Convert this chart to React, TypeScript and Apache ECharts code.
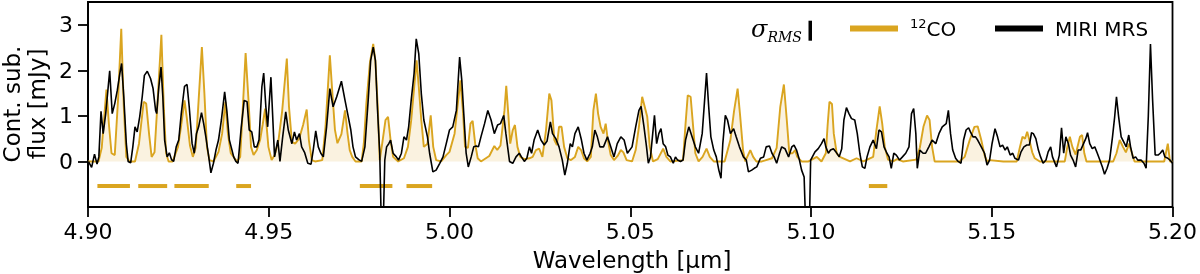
import React, { useEffect, useRef } from "react";
import * as echarts from "echarts";

const xTicks = [4.9, 4.95, 5.0, 5.05, 5.1, 5.15, 5.2];
const yTicks = [0, 1, 2, 3];

const miriSpectrum: [number, number][] = [
  [4.9001,0.0],[4.9010,-0.13],[4.9018,0.16],[4.9025,-0.06],[4.9030,0.1],[4.9036,1.1],[4.9042,0.61],[4.9049,1.05],[4.9055,1.56],[4.9060,1.99],
  [4.9067,1.05],[4.9074,1.27],[4.9081,1.56],[4.9088,1.93],[4.9093,2.15],[4.9099,1.42],[4.9106,0.39],[4.9111,0.0],[4.9118,-0.03],[4.9124,0.32],
  [4.9130,0.76],[4.9136,0.65],[4.9143,0.98],[4.9150,1.42],[4.9156,1.89],[4.9164,1.98],[4.9173,1.82],[4.9180,1.6],[4.9187,1.12],[4.9190,1.05],
  [4.9196,1.64],[4.9202,2.07],[4.9207,1.42],[4.9212,0.47],[4.9219,0.1],[4.9225,0.19],[4.9231,0.04],[4.9237,0.0],[4.9244,0.32],[4.9251,0.47],
  [4.9258,1.05],[4.9267,1.65],[4.9274,1.69],[4.9280,1.2],[4.9288,0.39],[4.9294,0.18],[4.9300,0.61],[4.9306,0.76],[4.9314,1.07],[4.9320,0.83],
  [4.9326,0.54],[4.9334,0.1],[4.9340,-0.25],[4.9347,-0.04],[4.9354,0.25],[4.9361,0.47],[4.9369,0.91],[4.9378,1.53],[4.9384,1.12],[4.9391,0.47],
  [4.9396,0.32],[4.9403,0.1],[4.9409,0.0],[4.9415,-0.04],[4.9424,0.76],[4.9432,1.34],[4.9440,1.31],[4.9446,0.69],[4.9453,0.65],[4.9460,0.32],
  [4.9467,0.32],[4.9473,0.47],[4.9481,1.64],[4.9486,1.94],[4.9492,1.2],[4.9497,0.76],[4.9506,1.85],[4.9516,0.1],[4.9525,0.47],[4.9531,0.0],
  [4.9538,0.5],[4.9547,1.09],[4.9554,0.69],[4.9564,0.39],[4.9571,0.65],[4.9577,0.47],[4.9585,0.61],[4.9591,0.32],[4.9599,0.2],[4.9608,-0.04],
  [4.9617,-0.06],[4.9623,0.25],[4.9630,0.67],[4.9637,0.32],[4.9644,0.18],[4.9651,0.1],[4.9660,0.76],[4.9669,1.6],[4.9678,1.2],[4.9688,1.42],
  [4.9701,1.76],[4.9711,1.34],[4.9720,0.98],[4.9727,0.69],[4.9733,0.32],[4.9740,0.1],[4.9749,0.04],[4.9757,0.0],[4.9766,0.32],[4.9775,1.34],
  [4.9782,2.22],[4.9789,2.51],[4.9795,2.22],[4.9801,1.12],[4.9807,0.18],[4.9812,-1.6],[4.9816,-1.6],[4.9821,0.03],[4.9826,0.32],[4.9832,0.39],
  [4.9837,0.47],[4.9844,0.18],[4.9853,0.1],[4.9859,0.03],[4.9867,0.18],[4.9874,0.54],[4.9881,0.47],[4.9887,0.76],[4.9894,1.34],[4.9902,1.93],
  [4.9908,2.69],[4.9915,2.36],[4.9922,1.49],[4.9929,0.91],[4.9939,0.54],[4.9945,0.18],[4.9954,-0.23],[4.9963,-0.19],[4.9973,-0.04],[4.9982,0.1],
  [4.9991,0.39],[5.0000,0.69],[5.0009,0.76],[5.0019,1.12],[5.0028,2.29],[5.0034,1.78],[5.0040,0.98],[5.0046,0.18],[5.0052,-0.12],[5.0060,0.1],
  [5.0067,0.32],[5.0074,0.34],[5.0080,0.32],[5.0087,0.54],[5.0097,0.83],[5.0106,1.12],[5.0115,0.91],[5.0124,0.61],[5.0133,0.8],[5.0141,0.83],
  [5.0150,1.01],[5.0156,0.61],[5.0166,0.0],[5.0175,-0.04],[5.0184,0.1],[5.0193,0.18],[5.0199,0.1],[5.0207,0.0],[5.0214,0.07],[5.0221,0.32],
  [5.0227,0.18],[5.0234,0.47],[5.0244,0.69],[5.0253,0.47],[5.0262,0.36],[5.0270,0.45],[5.0279,0.87],[5.0285,0.61],[5.0294,0.5],[5.0303,0.32],
  [5.0312,0.03],[5.0319,-0.3],[5.0326,-0.04],[5.0334,0.39],[5.0340,0.32],[5.0347,0.61],[5.0356,0.76],[5.0365,0.47],[5.0372,0.18],[5.0380,0.03],
  [5.0389,0.18],[5.0395,0.32],[5.0402,0.69],[5.0409,0.54],[5.0416,0.32],[5.0426,0.32],[5.0437,0.54],[5.0446,0.32],[5.0455,0.1],[5.0464,0.39],
  [5.0474,0.54],[5.0483,0.47],[5.0492,0.18],[5.0505,0.32],[5.0515,0.76],[5.0524,1.12],[5.0530,1.21],[5.0538,0.76],[5.0545,0.32],[5.0550,-0.04],
  [5.0556,0.1],[5.0567,1.01],[5.0573,0.39],[5.0579,0.61],[5.0585,0.72],[5.0591,0.39],[5.0598,0.32],[5.0604,0.14],[5.0611,0.1],[5.0619,-0.04],
  [5.0625,0.1],[5.0631,0.03],[5.0639,0.0],[5.0646,0.03],[5.0653,0.47],[5.0662,0.76],[5.0671,0.54],[5.0680,0.32],[5.0689,0.18],[5.0699,0.61],
  [5.0705,1.27],[5.0711,1.94],[5.0717,1.2],[5.0723,0.54],[5.0731,0.25],[5.0738,0.1],[5.0745,-0.19],[5.0751,-0.37],[5.0756,0.39],[5.0763,1.01],
  [5.0769,0.91],[5.0777,0.61],[5.0786,0.72],[5.0793,0.54],[5.0802,0.32],[5.0813,0.1],[5.0821,0.03],[5.0827,-0.23],[5.0836,-0.19],[5.0843,-0.15],
  [5.0850,-0.12],[5.0860,0.07],[5.0869,0.1],[5.0876,0.32],[5.0885,0.34],[5.0892,0.18],[5.0898,0.1],[5.0905,-0.04],[5.0913,0.18],[5.0919,0.32],
  [5.0928,0.28],[5.0938,0.1],[5.0947,0.32],[5.0953,0.36],[5.0960,0.25],[5.0968,0.03],[5.0974,-0.19],[5.0981,-0.34],[5.0986,-1.6],[5.0995,-1.6],
  [5.0999,0.03],[5.1011,0.21],[5.1020,0.28],[5.1029,0.39],[5.1036,0.5],[5.1041,0.32],[5.1048,0.18],[5.1054,0.25],[5.1062,0.28],[5.1069,0.21],
  [5.1078,0.1],[5.1085,0.28],[5.1091,0.91],[5.1098,1.18],[5.1105,1.05],[5.1112,0.94],[5.1121,0.91],[5.1128,0.61],[5.1135,0.18],[5.1142,-0.12],
  [5.1149,-0.15],[5.1155,0.1],[5.1163,0.32],[5.1172,0.47],[5.1181,0.28],[5.1188,0.69],[5.1195,0.65],[5.1202,0.32],[5.1210,0.18],[5.1216,0.1],
  [5.1222,-0.15],[5.1229,0.18],[5.1236,0.14],[5.1245,0.03],[5.1253,0.1],[5.1262,0.18],[5.1271,0.32],[5.1278,1.05],[5.1284,1.16],[5.1290,0.61],
  [5.1294,-0.15],[5.1301,0.25],[5.1310,0.18],[5.1317,0.18],[5.1326,0.32],[5.1335,0.47],[5.1345,0.39],[5.1354,0.61],[5.1363,0.76],[5.1374,0.83],
  [5.1380,1.12],[5.1386,0.61],[5.1392,0.25],[5.1400,0.07],[5.1407,0.0],[5.1415,-0.04],[5.1422,0.47],[5.1429,0.69],[5.1436,0.74],[5.1441,0.65],
  [5.1448,0.54],[5.1455,0.54],[5.1461,0.47],[5.1471,0.32],[5.1480,0.18],[5.1487,-0.08],[5.1494,0.03],[5.1501,0.4],[5.1509,0.72],[5.1516,0.54],
  [5.1523,0.32],[5.1530,0.36],[5.1537,0.25],[5.1543,0.32],[5.1551,0.14],[5.1558,0.18],[5.1564,0.07],[5.1574,0.03],[5.1581,0.21],[5.1589,0.32],
  [5.1597,0.36],[5.1604,0.36],[5.1610,0.63],[5.1615,0.61],[5.1622,0.5],[5.1629,0.25],[5.1635,0.1],[5.1642,-0.04],[5.1650,0.03],[5.1656,0.21],
  [5.1663,0.32],[5.1668,0.1],[5.1679,-0.12],[5.1687,0.14],[5.1693,0.74],[5.1699,0.18],[5.1705,0.54],[5.1712,0.39],[5.1718,0.14],[5.1725,0.03],
  [5.1732,-0.12],[5.1739,0.25],[5.1746,0.25],[5.1760,0.5],[5.1765,0.63],[5.1771,0.39],[5.1778,0.28],[5.1785,0.32],[5.1792,0.18],[5.1799,0.03],
  [5.1806,-0.12],[5.1812,-0.28],[5.1819,-0.15],[5.1826,0.03],[5.1834,0.54],[5.1840,0.98],[5.1845,1.42],[5.1851,0.98],[5.1858,0.54],[5.1865,0.43],
  [5.1872,0.32],[5.1879,0.58],[5.1884,0.32],[5.1891,0.07],[5.1898,0.1],[5.1904,0.03],[5.1913,0.03],[5.1921,-0.04],[5.1927,-0.15],[5.1933,0.98],
  [5.1939,2.58],[5.1945,1.34],[5.1952,0.14],[5.1960,0.14],[5.1966,0.18],[5.1973,0.25],[5.1979,0.1],[5.1987,0.07],[5.1993,0.03],[5.2000,-0.04],
];

const coModel: [number, number][] = [
  [4.9000,0],[4.9029,0],[4.9038,0.3],[4.9051,1.58],[4.9058,0.8],[4.9065,0.18],[4.9074,0.14],[4.9083,1.34],[4.9092,2.91],[4.9099,1.2],
  [4.9106,0.1],[4.9115,0],[4.9130,0],[4.9141,0.39],[4.9154,1.31],[4.9161,1.27],[4.9169,0.6],[4.9176,0.1],[4.9184,0.2],[4.9191,1.12],
  [4.9203,2.78],[4.9210,1.12],[4.9216,0.18],[4.9223,0],[4.9234,0],[4.9249,0.32],[4.9258,0.8],[4.9267,1.34],[4.9274,0.91],[4.9282,0.35],
  [4.9290,0.1],[4.9298,0.3],[4.9306,1.34],[4.9315,2.51],[4.9322,1.49],[4.9329,0.32],[4.9336,0.03],[4.9347,0],[4.9361,0.21],[4.9371,0.61],
  [4.9380,1.31],[4.9387,0.61],[4.9395,0.18],[4.9412,0],[4.9421,0.1],[4.9427,0.98],[4.9436,2.38],[4.9444,1.34],[4.9451,0.32],[4.9458,0.14],
  [4.9467,0.25],[4.9476,0.47],[4.9483,0.8],[4.9490,1.16],[4.9499,0.32],[4.9508,0.03],[4.9517,0.15],[4.9527,0.47],[4.9537,1.1],[4.9550,2.26],
  [4.9556,1.2],[4.9564,0.43],[4.9573,0.39],[4.9584,0.5],[4.9595,0.8],[4.9605,1.14],[4.9611,0.47],[4.9619,0.03],[4.9628,0],[4.9648,0.03],
  [4.9657,0.76],[4.9669,2.33],[4.9676,1.5],[4.9683,0.7],[4.9690,0.4],[4.9701,0.6],[4.9711,1.12],[4.9718,0.61],[4.9724,0.25],[4.9731,0.1],
  [4.9740,0],[4.9757,0],[4.9763,0.4],[4.9770,1.27],[4.9780,2.18],[4.9789,2.58],[4.9795,2.2],[4.9802,1.12],[4.9807,0.03],[4.9814,0.4],
  [4.9823,0.91],[4.9830,0.98],[4.9837,0.47],[4.9844,0.1],[4.9858,0],[4.9874,0.07],[4.9885,0.32],[4.9894,0.9],[4.9904,1.78],[4.9909,2.22],
  [4.9915,1.64],[4.9922,0.9],[4.9929,0.32],[4.9939,0.39],[4.9948,1.01],[4.9955,0.32],[4.9963,0.03],[4.9977,0],[4.9991,0.14],[5.0000,0.21],
  [5.0014,0.61],[5.0022,1.2],[5.0030,1.78],[5.0037,1.12],[5.0043,0.32],[5.0051,0.3],[5.0058,0.83],[5.0064,0.89],[5.0071,0.39],[5.0078,0.07],
  [5.0087,0],[5.0110,0.12],[5.0124,0.34],[5.0132,0.25],[5.0141,0.35],[5.0152,1.12],[5.0157,1.66],[5.0163,1.0],[5.0168,0.39],[5.0175,0.69],
  [5.0181,0.8],[5.0188,0.32],[5.0196,0.1],[5.0207,0.05],[5.0221,0.07],[5.0230,0.1],[5.0239,0.25],[5.0248,0.28],[5.0257,0.1],[5.0267,0.69],
  [5.0276,1.49],[5.0282,1.34],[5.0290,0.47],[5.0297,0.36],[5.0303,0.76],[5.0310,0.76],[5.0317,0.32],[5.0326,0.07],[5.0336,0.03],[5.0347,0.1],
  [5.0356,0.32],[5.0364,0.25],[5.0372,0.07],[5.0381,0],[5.0391,0.1],[5.0398,1.12],[5.0405,1.49],[5.0411,1.05],[5.0418,0.76],[5.0426,0.61],
  [5.0432,0.83],[5.0438,0.47],[5.0446,0.14],[5.0455,0.03],[5.0465,0.12],[5.0474,0.25],[5.0481,0.2],[5.0490,0.03],[5.0505,0],[5.0515,0.25],
  [5.0524,0.76],[5.0533,1.42],[5.0540,1.2],[5.0547,0.98],[5.0554,0.32],[5.0563,0],[5.0576,0.05],[5.0591,0.28],[5.0600,0.1],[5.0611,0],
  [5.0646,0.03],[5.0653,0.83],[5.0659,1.45],[5.0667,1.42],[5.0674,0.76],[5.0680,0.18],[5.0689,0],[5.0700,0.1],[5.0711,0.28],[5.0720,0.1],
  [5.0731,0],[5.0761,0],[5.0777,0.47],[5.0787,1.1],[5.0797,1.6],[5.0804,1.0],[5.0812,0.25],[5.0818,0],[5.0832,0.25],[5.0840,0.1],
  [5.0849,0],[5.0864,0],[5.0892,0.07],[5.0905,0.3],[5.0915,1.2],[5.0925,1.69],[5.0933,0.91],[5.0940,0.18],[5.0949,0.18],[5.0956,0.25],
  [5.0962,0.1],[5.0974,0],[5.0993,0],[5.1016,0.1],[5.1029,0],[5.1041,0.18],[5.1046,0.8],[5.1051,1.31],[5.1058,1.26],[5.1063,0.61],
  [5.1071,0.18],[5.1080,0.1],[5.1108,0],[5.1126,0.07],[5.1145,0],[5.1172,0.1],[5.1181,0.69],[5.1190,1.21],[5.1197,0.83],[5.1204,0.32],
  [5.1213,0.04],[5.1227,0],[5.1238,0.05],[5.1254,0],[5.1291,0.04],[5.1301,0.3],[5.1311,0.76],[5.1321,1.01],[5.1328,0.91],[5.1335,0.32],
  [5.1342,0],[5.1411,0],[5.1425,0.1],[5.1439,0.47],[5.1452,0.76],[5.1461,0.77],[5.1471,0.47],[5.1480,0.14],[5.1487,0],[5.1494,0.03],
  [5.1532,0],[5.1569,0],[5.1578,0.32],[5.1585,0.54],[5.1592,0.5],[5.1598,0.65],[5.1604,0.47],[5.1612,0.2],[5.1619,0.07],[5.1633,0],
  [5.1702,0],[5.1709,0.32],[5.1716,0.54],[5.1723,0.32],[5.1732,0.15],[5.1744,0.54],[5.1750,0.58],[5.1756,0.18],[5.1762,0],[5.1836,0],
  [5.1845,0.18],[5.1854,0.47],[5.1863,0.32],[5.1871,0.2],[5.1880,0.39],[5.1887,0.2],[5.1895,0],[5.1977,0],[5.1987,0.39],[5.1993,0],
  [5.2000,0],
];

const coBandStart = [4.9026, 4.9139, 4.9239, 4.941, 4.9752, 4.9881, 5.116];
const coBandEnd = [4.9116, 4.9219, 4.9334, 4.9451, 4.9842, 4.9952, 5.1211];
const coBandLevel = -0.54;

const xLabel = "Wavelength [μm]";
const yLabelLines = ["Cont. sub.", "flux [mJy]"];
const legendNames = ["12CO", "MIRI MRS"];

export default function App() {
  const ref = useRef<HTMLDivElement>(null);
  useEffect(() => {
    const chart = echarts.init(ref.current!, null, { renderer: "svg" });
    const gold = "#DAA520";
    const font = "DejaVu Sans";
    const serif = "DejaVu Serif";
    const bandSeries = coBandStart.map((s, i) => ({
      type: "line",
      data: [[s, coBandLevel], [coBandEnd[i], coBandLevel]],
      symbol: "none",
      silent: true,
      lineStyle: { color: gold, width: 4, cap: "butt" },
      z: 3,
    }));
    chart.setOption({
      animation: false,
      grid: {
        left: 88, right: 24, top: 2, bottom: 67,
        show: true, borderColor: "#000", borderWidth: 1.8, backgroundColor: "transparent",
      },
      xAxis: {
        type: "value", min: 4.9, max: 5.2, interval: 0.05,
        axisLine: { show: true, onZero: false, lineStyle: { color: "#000", width: 1.8 } },
        axisTick: { show: true, length: 10, customValues: xTicks, lineStyle: { color: "#000", width: 1.8 } },
        axisLabel: {
          customValues: xTicks,
          formatter: (v: number) => v.toFixed(2),
          fontSize: 22, fontFamily: font, color: "#000", margin: 13,
        },
        splitLine: { show: false },
      },
      yAxis: {
        type: "value", min: -1, max: 3.5, interval: 1,
        axisLine: { show: true, onZero: false, lineStyle: { color: "#000", width: 1.8 } },
        axisTick: { show: true, length: 10, customValues: yTicks, lineStyle: { color: "#000", width: 1.8 } },
        axisLabel: {
          customValues: yTicks,
          formatter: (v: number) => String(v),
          fontSize: 22, fontFamily: font, color: "#000", margin: 15,
        },
        splitLine: { show: false },
      },
      series: [
        {
          name: legendNames[0],
          type: "line",
          data: coModel,
          symbol: "none",
          silent: true,
          lineStyle: { color: gold, width: 1.9 },
          areaStyle: { color: "rgba(218,165,32,0.2)", origin: 0 },
          z: 4,
        },
        {
          name: legendNames[1],
          type: "line",
          data: miriSpectrum,
          symbol: "none",
          silent: true,
          lineStyle: { color: "#000", width: 1.6 },
          z: 5,
        },
        ...bandSeries,
      ],
      graphic: [
        {
          type: "text", x: 632, y: 260,
          style: { text: xLabel, fontSize: 23, fontFamily: font, fill: "#000", align: "center", verticalAlign: "middle" },
        },
        {
          type: "text", x: 12, y: 104, rotation: Math.PI / 2,
          style: { text: yLabelLines[0], fontSize: 23, fontFamily: font, fill: "#000", align: "center", verticalAlign: "middle" },
        },
        {
          type: "text", x: 37, y: 104, rotation: Math.PI / 2,
          style: { text: yLabelLines[1], fontSize: 23, fontFamily: font, fill: "#000", align: "center", verticalAlign: "middle" },
        },
        {
          type: "text", x: 751, y: 29,
          style: {
            text: "{s|σ}{r|RMS}",
            fill: "#000", align: "left", verticalAlign: "middle",
            rich: {
              s: { fontSize: 24, fontStyle: "italic", fontFamily: serif, lineHeight: 30, verticalAlign: "middle" },
              r: { fontSize: 14, fontStyle: "italic", fontFamily: serif, lineHeight: 14, verticalAlign: "bottom" },
            },
          },
        },
        { type: "rect", shape: { x: 808.5, y: 20.7, width: 3.5, height: 20 }, style: { fill: "#000" } },
        { type: "rect", shape: { x: 850, y: 25.5, width: 48, height: 6 }, style: { fill: gold } },
        {
          type: "text", x: 910, y: 28.5,
          style: {
            text: "{p|12}{n|CO}",
            fill: "#000", align: "left", verticalAlign: "middle",
            rich: {
              p: { fontSize: 13, fontFamily: font, lineHeight: 13, verticalAlign: "top" },
              n: { fontSize: 20, fontFamily: font, lineHeight: 24, verticalAlign: "middle" },
            },
          },
        },
        { type: "rect", shape: { x: 995, y: 25.5, width: 48, height: 6 }, style: { fill: "#000" } },
        {
          type: "text", x: 1055, y: 28.5,
          style: { text: legendNames[1], fontSize: 20, fontFamily: font, fill: "#000", align: "left", verticalAlign: "middle" },
        },
      ],
    });
    return () => chart.dispose();
  }, []);
  return <div ref={ref} style={{ position: "fixed", left: 0, top: 0, width: 1200, height: 274 }} />;
}
